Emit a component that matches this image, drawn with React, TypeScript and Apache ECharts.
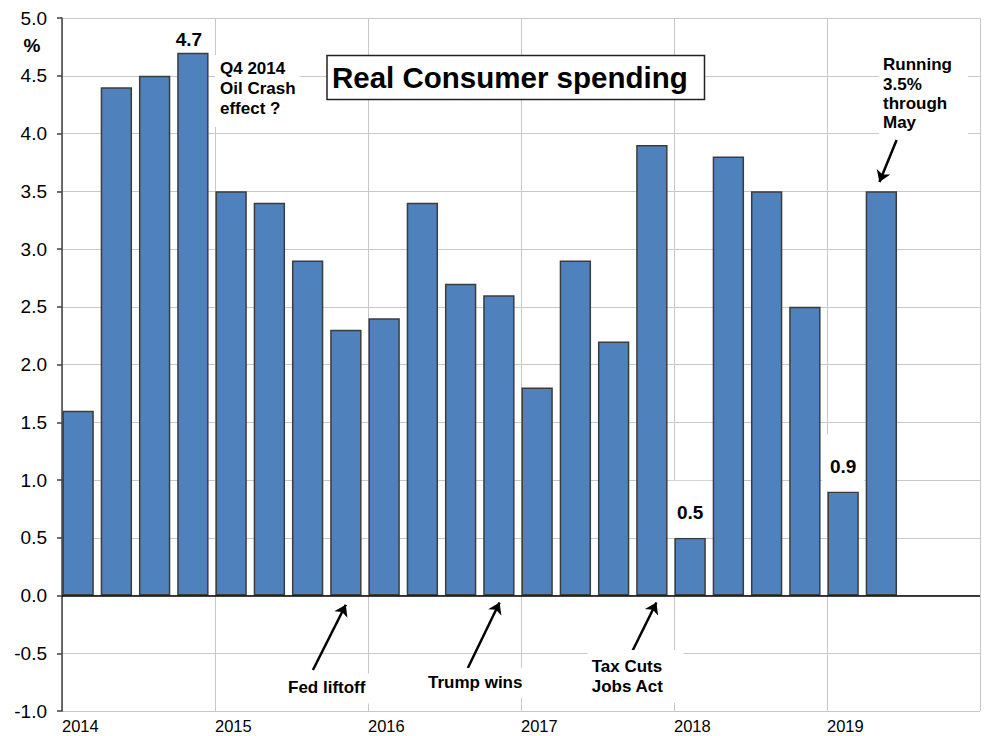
import React, { useEffect, useRef } from 'react';
import * as echarts from 'echarts';

// ---- data ----
const years: string[] = ['2014', '2015', '2016', '2017', '2018', '2019'];
const quarterNames: string[] = ['Q1', 'Q2', 'Q3', 'Q4'];
const categories: string[] = years.flatMap((y) => quarterNames.map((q) => `${q} ${y}`));
const values: number[] = [
  1.6, 4.4, 4.5, 4.7, 3.5, 3.4, 2.9, 2.3, 2.4, 3.4, 2.7, 2.6,
  1.8, 2.9, 2.2, 3.9, 0.5, 3.8, 3.5, 2.5, 0.9, 3.5,
];
const labeledBars: number[] = [3, 16, 20];
const yMin = -1;
const yMax = 5;
const yStep = 0.5;

// annotation arrows in data coordinates (x in quarter slots from start of 2014)
const arrows: number[][][] = [
  [[6.56, -0.645], [7.42, -0.08]],
  [[10.61, -0.628], [11.44, -0.06]],
  [[14.9, -0.489], [15.54, -0.06]],
  [[21.82, 3.944], [21.37, 3.58]],
];

const FONT = '"Liberation Sans", Arial, Helvetica, sans-serif';

export default function App() {
  const ref = useRef<HTMLDivElement>(null);

  useEffect(() => {
    document.body.style.margin = '0';
    const chart = echarts.init(ref.current!, null, { renderer: 'svg' });

    const barData = values.map((v, i) => {
      if (!labeledBars.includes(i)) return v;
      if (i === 3) {
        return {
          value: v,
          label: {
            show: true,
            position: 'top',
            distance: 4,
            offset: [-4, 0],
            fontSize: 19,
            lineHeight: 19,
            fontWeight: 'bold',
            fontFamily: FONT,
            color: '#000',
          },
        };
      }
      return {
        value: v,
        label: {
          show: true,
          position: 'top',
          distance: 0,
          fontSize: 19,
          lineHeight: 19,
          fontWeight: 'bold',
          fontFamily: FONT,
          color: '#000',
          backgroundColor: '#fff',
          padding: [22, 8, 16, 8],
        },
      };
    });

    const annotation = (text: string, x: number, y: number, lh: number, pad: number[]) => ({
      type: 'text',
      z: 100,
      x,
      y,
      style: {
        text,
        font: `bold 17px ${FONT}`,
        fill: '#000',
        align: 'left',
        verticalAlign: 'top',
        lineHeight: lh,
        backgroundColor: '#fff',
        padding: pad,
      },
    });

    const option: any = {
      animation: false,
      backgroundColor: '#fff',
      textStyle: { fontFamily: FONT },
      grid: [
        { left: 62, right: 7, top: 18, bottom: 25 },
        { left: 59, right: 10, top: 18, bottom: 25 },
      ],
      xAxis: [
        {
          type: 'value',
          gridIndex: 0,
          min: 0,
          max: 24,
          interval: 4,
          axisLine: { show: false },
          axisTick: { show: false },
          splitLine: { show: true, lineStyle: { color: '#c8c8c8', width: 1 } },
          axisLabel: {
            formatter: (v: number) => (v / 4 < years.length ? years[v / 4] : ''),
            align: 'left',
            margin: 6,
            fontSize: 16.5,
            color: '#000',
            fontFamily: FONT,
          },
        },
        {
          type: 'category',
          gridIndex: 1,
          data: categories,
          boundaryGap: true,
          show: false,
        },
      ],
      yAxis: [
        {
          type: 'value',
          gridIndex: 0,
          min: yMin,
          max: yMax,
          interval: yStep,
          axisLine: { show: true, lineStyle: { color: '#404040', width: 1.5 } },
          axisTick: { show: true, inside: false, length: 5, lineStyle: { color: '#404040', width: 1.5 } },
          splitLine: { show: true, lineStyle: { color: '#c8c8c8', width: 1 } },
          axisLabel: {
            formatter: (v: number) => v.toFixed(1),
            fontSize: 19,
            margin: 15,
            color: '#000',
            fontFamily: FONT,
          },
        },
        {
          type: 'value',
          gridIndex: 1,
          min: yMin,
          max: yMax,
          interval: yStep,
          show: false,
          splitLine: { show: false },
        },
      ],
      series: [
        {
          type: 'bar',
          xAxisIndex: 1,
          yAxisIndex: 1,
          data: barData,
          barCategoryGap: '18%',
          z: 2,
          itemStyle: { color: '#4F81BD', borderColor: '#3c3c3c', borderWidth: 1.5 },
          emphasis: { disabled: true },
        },
        {
          type: 'scatter',
          xAxisIndex: 0,
          yAxisIndex: 0,
          data: [],
          z: 5,
          silent: true,
          markLine: {
            silent: true,
            symbol: ['none', 'none'],
            label: { show: false },
            lineStyle: { color: '#000', width: 1.5, type: 'solid' },
            emphasis: { disabled: true },
            data: [[{ coord: [0, 0] }, { coord: [24, 0] }]],
          },
        },
        {
          type: 'scatter',
          xAxisIndex: 0,
          yAxisIndex: 0,
          data: [],
          z: 6,
          silent: true,
          markLine: {
            silent: true,
            symbol: ['none', 'arrow'],
            symbolSize: 11,
            label: { show: false },
            lineStyle: { color: '#000', width: 2.5, type: 'solid' },
            itemStyle: { color: '#000' },
            emphasis: { disabled: true },
            data: arrows.map((a) => [{ coord: a[0] }, { coord: a[1] }]),
          },
        },
      ],
      graphic: [
        {
          type: 'rect',
          z: 100,
          shape: { x: 327, y: 55.5, width: 377.5, height: 44 },
          style: { fill: '#fff', stroke: '#222', lineWidth: 1.5 },
        },
        {
          type: 'text',
          z: 101,
          x: 332,
          y: 77.5,
          style: {
            text: 'Real Consumer spending',
            font: `bold 29.5px ${FONT}`,
            fill: '#000',
            align: 'left',
            verticalAlign: 'middle',
          },
        },
        {
          type: 'text',
          z: 101,
          x: 32,
          y: 45,
          style: {
            text: '%',
            font: `bold 19px ${FONT}`,
            fill: '#000',
            align: 'center',
            verticalAlign: 'middle',
          },
        },
        annotation('Q4 2014\nOil Crash\neffect ?', 215, 55, 20, [3, 4, 9, 5]),
        annotation('Running\n3.5%\nthrough\nMay', 879, 40.3, 19.3, [15, 16, 3, 4]),
        annotation('Fed liftoff', 285, 673.5, 20, [4, 5, 6, 3]),
        annotation('Trump wins', 424, 668, 20, [4, 4, 6, 4]),
        annotation('Tax Cuts\nJobs Act', 587.7, 650, 20, [6, 20, 7, 4]),
      ],
    };

    chart.setOption(option);
    return () => chart.dispose();
  }, []);

  return (
    <div
      ref={ref}
      style={{ position: 'fixed', left: 0, top: 0, width: 987, height: 736, background: '#fff' }}
    />
  );
}
